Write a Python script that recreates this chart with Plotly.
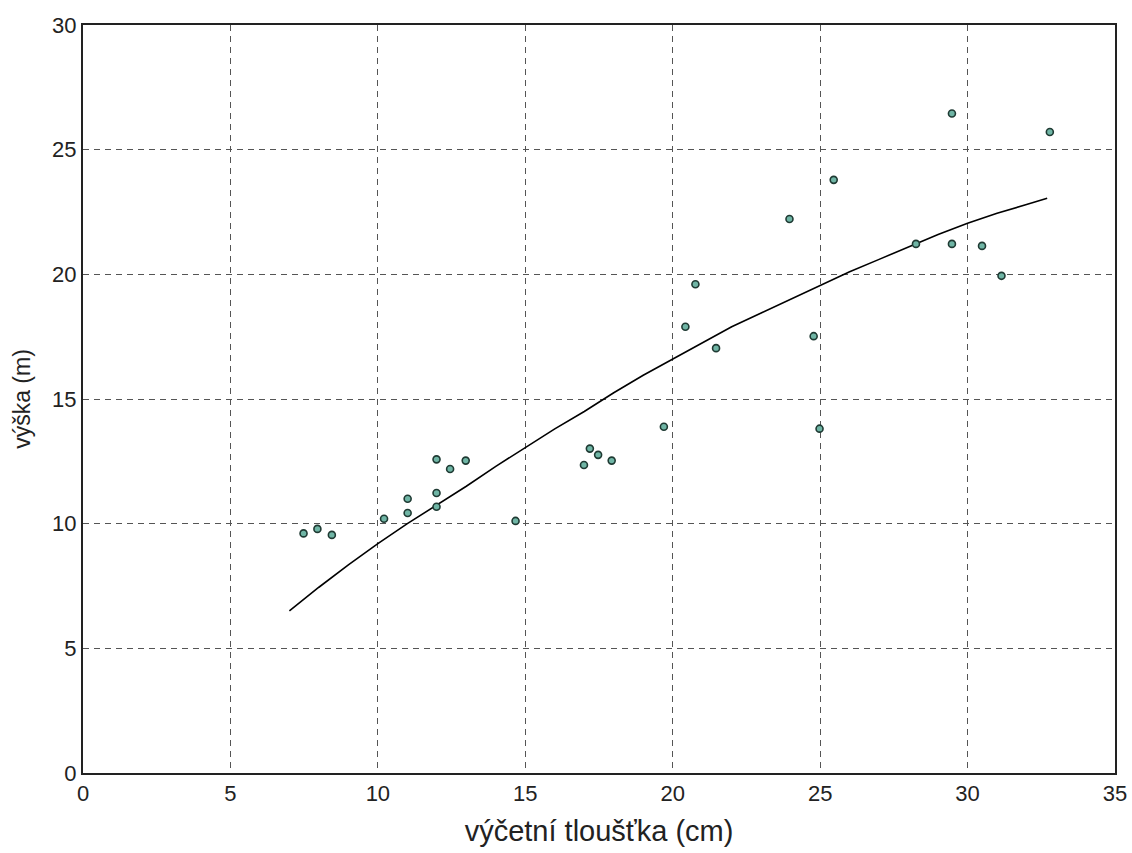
import plotly.graph_objects as go

# measured points: diameter (cm) vs height (m)
dbh = [7.48, 7.95, 8.44, 10.21, 11.01, 11.01, 11.99, 12.45, 12.98, 11.99, 11.99, 14.67,
       16.99, 17.19, 17.47, 17.93, 19.70, 20.43, 20.77, 21.47, 23.96, 24.78, 24.98, 25.46,
       28.25, 29.47, 29.47, 30.49, 31.15, 32.79]
height = [9.61, 9.79, 9.55, 10.20, 10.43, 11.00, 12.58, 12.19, 12.53, 11.23, 10.68, 10.11,
          12.35, 13.01, 12.76, 12.53, 13.89, 17.90, 19.60, 17.04, 22.22, 17.52, 13.81, 23.79,
          21.22, 26.45, 21.22, 21.14, 19.94, 25.71]

# fitted height curve
fit_x = [7, 8, 9, 10, 11, 12, 13, 14, 15, 16, 17, 18, 19, 20, 21, 22, 23, 24, 25,
         26, 27, 28, 29, 30, 31, 32, 32.7]
fit_y = [6.5, 7.45, 8.35, 9.2, 10.0, 10.75, 11.5, 12.3, 13.05, 13.8, 14.5, 15.25, 15.95,
         16.6, 17.25, 17.9, 18.45, 19.0, 19.55, 20.1, 20.6, 21.1, 21.6, 22.05, 22.45, 22.8, 23.05]

x_ticks = [0, 5, 10, 15, 20, 25, 30, 35]
y_ticks = [0, 5, 10, 15, 20, 25, 30]

fig = go.Figure()
fig.add_trace(go.Scatter(x=fit_x, y=fit_y, mode="lines",
                         line=dict(color="black", width=1.6), hoverinfo="skip"))
fig.add_trace(go.Scatter(x=dbh, y=height, mode="markers",
                         marker=dict(size=7, color="#6fb5a5",
                                     line=dict(color="#1f3a33", width=1.6))))

axis_common = dict(showgrid=True, gridcolor="#555555", griddash="6px,5px", gridwidth=1,
                   showline=True, linecolor="#222222", linewidth=2, mirror=True,
                   zeroline=False, ticks="", automargin=False,
                   tickfont=dict(family="Liberation Sans, Arial", size=22, color="#222222"))

fig.update_layout(
    width=1132, height=853,
    margin=dict(l=83, r=17, t=25, b=80),
    paper_bgcolor="white", plot_bgcolor="white",
    showlegend=False,
    xaxis=dict(range=[0, 35], tickvals=x_ticks,
               title=dict(text="výčetní tloušťka (cm)",
                          font=dict(family="Liberation Sans, Arial", size=29, color="#222222")),
               **axis_common),
    yaxis=dict(range=[0, 30], tickvals=y_ticks,
               title=dict(text="výška (m)",
                          font=dict(family="Liberation Sans, Arial", size=23, color="#222222")),
               **axis_common),
)

fig.write_html("out.html")
